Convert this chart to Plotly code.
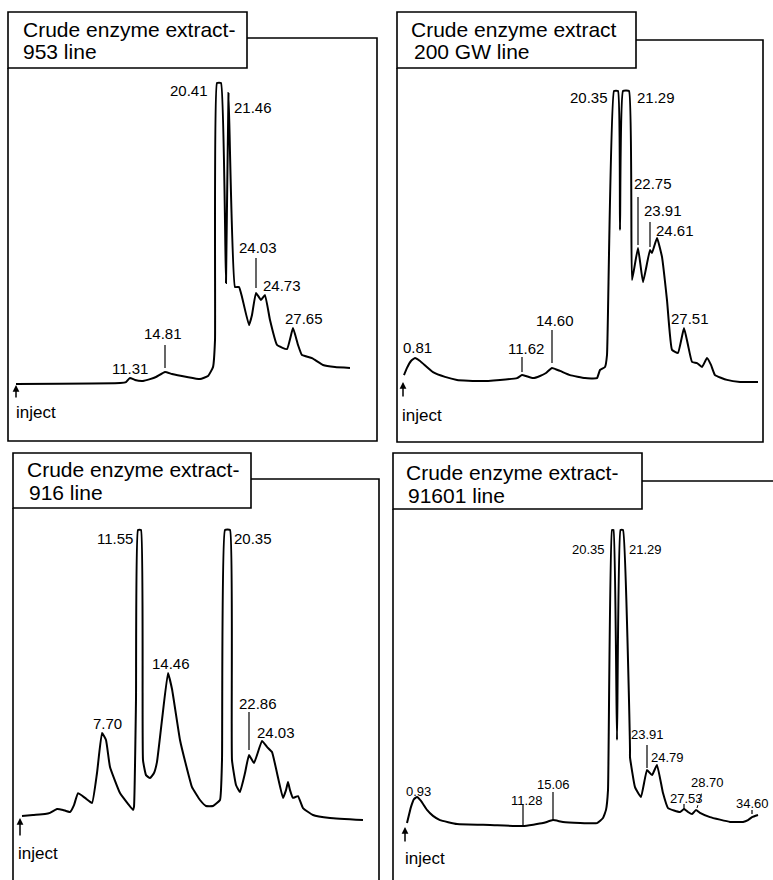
import plotly.graph_objects as go

W, H = 773, 880

# ---------------- data: retention time (min) vs detector response (% of full scale)
TITLE_LINE1 = ["Crude enzyme extract-", "Crude enzyme extract", "Crude enzyme extract-", "Crude enzyme extract-"]
TITLE_LINE2 = ["953 line", "200 GW line", "916 line", "91601 line"]

T_953 = [0.0, 10.4, 11.0, 11.4, 11.9, 12.7, 13.4, 14.0, 14.9, 15.6, 17.1, 18.4, 19.2, 19.7, 19.9, 20.1, 20.5,
         21.0, 21.25, 21.9, 22.3, 22.6, 23.3, 23.6, 24.0, 24.5, 24.9, 25.4, 26.1, 27.1, 27.7, 28.2, 28.6,
         29.6, 30.7, 31.9, 33.4]
R_953 = [-0.3, 0.0, 0.3, 1.7, 1.0, 0.7, 1.3, 2.0, 3.7, 3.0, 2.0, 1.3, 2.3, 5.3, 14.3, 100, 100,
         33.3, 96.7, 32.0, 32.0, 28.7, 19.3, 22.7, 30.0, 27.7, 29.3, 21.0, 12.7, 11.3, 18.3, 12.7, 9.3,
         8.3, 6.0, 5.3, 5.0]
PEAKS_953 = ["20.41", "21.46", "24.03", "24.73", "27.65", "14.81", "11.31"]

T_200GW = [0.1, 0.4, 0.8, 1.2, 1.7, 3.0, 4.2, 5.4, 7.7, 9.7, 11.4, 11.9, 12.3, 13.0, 13.7, 14.3, 14.9,
           15.7, 16.7, 18.2, 19.4, 19.7, 20.2, 20.4, 21.1, 21.5, 21.7, 22.0, 22.6, 22.9, 23.5, 24.0,
           24.7, 24.9, 25.4, 25.9, 26.4, 26.9, 27.5, 28.1, 28.5, 28.9, 29.4, 29.9, 30.4, 30.8, 31.2,
           32.4, 33.7, 35.5]
R_200GW = [5.3, 7.7, 10.0, 11.0, 10.0, 6.3, 4.7, 3.7, 3.3, 3.7, 4.3, 5.3, 5.0, 4.3, 5.0, 6.0, 7.7,
           6.7, 5.3, 4.3, 4.3, 7.0, 8.0, 12.0, 100, 100, 53.7, 100, 100, 37.0, 47.7, 36.3,
           47.0, 46.0, 51.0, 44.7, 30.3, 13.7, 12.7, 21.0, 15.3, 9.7, 9.3, 8.0, 11.0, 8.7, 5.3,
           3.7, 3.0, 3.0]
PEAKS_200GW = ["20.35", "21.29", "22.75", "23.91", "24.61", "27.51", "14.60", "11.62", "0.81"]

T_916 = [0.2, 1.3, 2.5, 3.0, 3.7, 4.3, 5.0, 5.4, 5.8, 6.5, 7.2, 7.7, 8.2, 8.6, 9.0, 10.0, 10.8, 11.3,
         11.4, 11.6, 11.8, 12.1, 12.3, 12.6, 13.0, 13.4, 13.7, 14.2, 14.8, 15.2, 16.0, 16.6, 17.2,
         18.0, 18.6, 19.3, 20.0, 20.2, 20.5, 21.0, 21.2, 21.6, 22.0, 22.5, 22.9, 23.4, 24.2, 24.7,
         25.2, 25.7, 26.3, 26.6, 26.8, 27.0, 27.3, 27.8, 28.3, 29.3, 31.0, 34.3]
R_916 = [4.7, 5.0, 5.3, 5.7, 7.0, 6.7, 6.0, 8.3, 12.3, 10.7, 9.0, 19.0, 32.3, 30.0, 21.0, 12.3, 8.7, 6.7,
         7.7, 43.3, 100, 100, 23.3, 18.3, 17.3, 19.0, 22.7, 36.7, 52.3, 47.0, 30.0, 21.7, 14.3,
         10.0, 8.0, 8.0, 10.0, 23.3, 100, 100, 23.3, 15.0, 12.7, 19.0, 25.0, 22.3, 29.7, 27.7,
         26.0, 19.0, 10.7, 13.3, 16.0, 13.3, 10.7, 11.3, 7.3, 5.0, 4.0, 3.3]
PEAKS_916 = ["11.55", "20.35", "14.46", "7.70", "22.86", "24.03"]

T_91601 = [0.1, 0.5, 0.8, 1.1, 1.5, 2.1, 2.7, 3.4, 5.1, 8.4, 11.7, 13.7, 14.7, 15.7, 19.1, 19.7, 20.0,
           20.2, 20.6, 20.75, 21.1, 21.45, 21.7, 22.4, 22.4, 22.9, 23.5, 24.1, 24.6, 25.1, 25.7, 26.2,
           27.4, 27.8, 28.2, 28.6, 29.0, 29.4, 30.4, 32.4, 33.7, 34.2, 34.6, 35.2]
R_91601 = [2.3, 7.7, 10.3, 11.0, 9.7, 6.7, 4.7, 3.3, 2.0, 1.7, 1.3, 2.3, 3.3, 2.7, 2.3, 4.0, 6.7,
           13.3, 100, 100, 30.0, 100, 100, 27.0, 24.3, 14.3, 11.0, 20.0, 18.3, 21.7, 12.3, 7.3,
           6.0, 7.0, 6.0, 5.3, 6.7, 5.7, 4.3, 2.7, 2.7, 3.3, 4.3, 5.0]
PEAKS_91601 = ["20.35", "21.29", "23.91", "24.79", "15.06", "11.28", "0.93", "27.53", "28.70", "34.60"]

SERIES = [(T_953, R_953, PEAKS_953), (T_200GW, R_200GW, PEAKS_200GW),
          (T_916, R_916, PEAKS_916), (T_91601, R_91601, PEAKS_91601)]

# ---------------- layout geometry (pixels)
PANELS = [
    dict(box=(8, 12, 247, 68), frame_top=38, right=377, bottom=441, left=8, x0=16, B=383,
         t1=(21, 29), t2=(21, 51), lab_size=15,
         labels=[(210, 91, "right"), (232, 107, "left"), (237, 248, "left"), (261, 286, "left"),
                 (304, 318, "center"), (163, 333, "center"), (130, 368, "center")],
         ticks=[(256, 258, 256, 288), (165, 345, 165, 368)],
         arrow=(16, 385, 14), inject=(14, 413)),
    dict(box=(397, 12, 636, 68), frame_top=40, right=763, bottom=442, left=397, x0=403, B=391,
         t1=(409, 30), t2=(412, 51), lab_size=15,
         labels=[(610, 98, "right"), (635, 98, "left"), (632, 183, "left"), (642, 210, "left"),
                 (654, 230, "left"), (690, 318, "center"), (555, 320, "center"), (526, 348, "center"),
                 (417, 347, "center")],
         ticks=[(638, 197, 638, 245), (650, 222, 650, 247), (552, 330, 552, 363), (522, 357, 522, 372)],
         arrow=(403, 382, 16), inject=(400, 415)),
    dict(box=(13, 453, 251, 508), frame_top=479, right=379, bottom=None, left=13, x0=20, B=830,
         t1=(25, 469), t2=(27, 493), lab_size=15,
         labels=[(135, 538, "right"), (232, 538, "left"), (171, 663, "center"), (107, 723, "center"),
                 (237, 703, "left"), (255, 732, "left")],
         ticks=[(249, 712, 249, 750)],
         arrow=(20, 818, 19), inject=(16, 853)),
    dict(box=(393, 453, 642, 509), frame_top=481, right=None, bottom=None, left=393, x0=406, B=830,
         t1=(404, 472), t2=(406, 495), lab_size=13,
         labels=[(607, 549, "right"), (627, 549, "left"), (629, 734, "left"), (649, 757, "left"),
                 (553, 784, "center"), (527, 800, "center"), (418, 791, "center"), (668, 798, "left"),
                 (707, 782, "center"), (771, 803, "right")],
         ticks=[(647, 745, 647, 768), (553, 792, 553, 820), (523, 805, 523, 825),
                (684, 804, 684, 809), (752, 810, 752, 814)],
         arrow=(405, 827, 16), inject=(403, 858)),
]

FONT = "Liberation Sans"
PXK = 10.0   # px per minute
PYK = 3.0    # px per response unit


def fx(x):
    return x / W


def fy(y):
    return 1 - y / H


fig = go.Figure()
shapes = []
annotations = []
LW = 1.6

for i, (p, (t, r, peaks)) in enumerate(zip(PANELS, SERIES)):
    n = "" if i == 0 else str(i + 1)
    top = p["box"][1]
    bottom = p["bottom"] if p["bottom"] is not None else H
    right = p["right"] if p["right"] is not None else W
    left = p["left"]
    xa = dict(domain=[fx(left), fx(right)],
              range=[(left - p["x0"]) / PXK, (right - p["x0"]) / PXK],
              visible=False, anchor="y" + n)
    ya = dict(domain=[fy(bottom), fy(top)],
              range=[(p["B"] - bottom) / PYK, (p["B"] - top) / PYK],
              visible=False, anchor="x" + n)
    fig.update_layout(**{"xaxis" + n: xa, "yaxis" + n: ya})
    fig.add_trace(go.Scatter(x=t, y=r, mode="lines", xaxis="x" + n, yaxis="y" + n,
                             line=dict(color="black", width=2.0, shape="spline", smoothing=0.35),
                             showlegend=False, hoverinfo="skip"))

    # label box
    bx0, by0, bx1, by1 = p["box"]
    shapes.append(dict(type="rect", xref="paper", yref="paper", x0=fx(bx0), x1=fx(bx1),
                       y0=fy(by1), y1=fy(by0), line=dict(color="black", width=LW)))
    # frame
    path = f"M{fx(bx1)},{fy(p['frame_top'])} L{fx(right)},{fy(p['frame_top'])}"
    if p["right"] is not None:
        path += f" L{fx(right)},{fy(bottom)}"
        if p["bottom"] is not None:
            path += f" L{fx(left)},{fy(bottom)} L{fx(left)},{fy(by1)}"
    shapes.append(dict(type="path", xref="paper", yref="paper", path=path,
                       line=dict(color="black", width=LW)))
    if p["bottom"] is None:
        shapes.append(dict(type="line", xref="paper", yref="paper", x0=fx(left), x1=fx(left),
                           y0=fy(by1), y1=fy(H + 2), line=dict(color="black", width=LW)))

    # titles
    for (tx, ty), txt in ((p["t1"], TITLE_LINE1[i]), (p["t2"], TITLE_LINE2[i])):
        annotations.append(dict(x=fx(tx), y=fy(ty), xref="paper", yref="paper", text=txt,
                                showarrow=False, xanchor="left", yanchor="middle",
                                font=dict(family=FONT, size=21, color="black")))
    # peak labels
    for (lx, ly, anc), txt in zip(p["labels"], peaks):
        annotations.append(dict(x=fx(lx), y=fy(ly), xref="paper", yref="paper", text=txt,
                                showarrow=False, xanchor=anc, yanchor="middle",
                                font=dict(family=FONT, size=p["lab_size"], color="black")))
    for (x0, y0, x1, y1) in p["ticks"]:
        shapes.append(dict(type="line", xref="paper", yref="paper", x0=fx(x0), x1=fx(x1),
                           y0=fy(y0), y1=fy(y1), line=dict(color="black", width=1.2)))
    # inject arrow + label
    ax_, ay_, alen = p["arrow"]
    annotations.append(dict(x=fx(ax_), y=fy(ay_), xref="paper", yref="paper", text="",
                            showarrow=True, ax=0, ay=alen, arrowhead=2, arrowsize=0.9,
                            arrowwidth=1.5, arrowcolor="black"))
    ix, iy = p["inject"]
    annotations.append(dict(x=fx(ix), y=fy(iy), xref="paper", yref="paper", text="inject",
                            showarrow=False, xanchor="left", yanchor="middle",
                            font=dict(family=FONT, size=17, color="black")))

# dashed pointer for 28.70 in last panel
shapes.append(dict(type="line", xref="paper", yref="paper", x0=fx(697), x1=fx(702),
                   y0=fy(808), y1=fy(792), line=dict(color="black", width=1, dash="dot")))

fig.update_layout(width=W, height=H, margin=dict(l=0, r=0, t=0, b=0),
                  paper_bgcolor="white", plot_bgcolor="rgba(0,0,0,0)",
                  shapes=shapes, annotations=annotations, showlegend=False)

fig.write_html("out.html")
